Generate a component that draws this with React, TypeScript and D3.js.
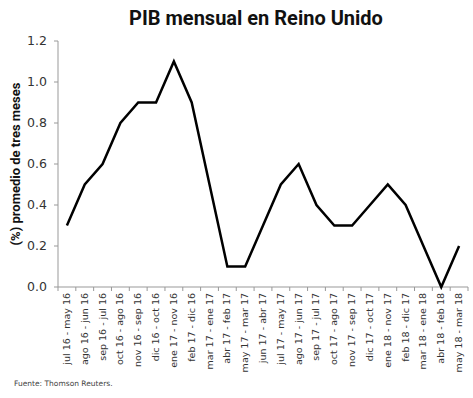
import React from "react";
import * as d3 from "d3";

const categories = [
  "jul 16 - may 16", "ago 16 - jun 16", "sep 16 - jul 16", "oct 16 - ago 16",
  "nov 16 - sep 16", "dic 16 - oct 16", "ene 17 - nov 16", "feb 17 - dic 16",
  "mar 17 - ene 17", "abr 17 - feb 17", "may 17 - mar 17", "jun 17 - abr 17",
  "jul 17 - may 17", "ago 17 - jun 17", "sep 17 - jul 17", "oct 17 - ago 17",
  "nov 17 - sep 17", "dic 17 - oct 17", "ene 18 - nov 17", "feb 18 - dic 17",
  "mar 18 - ene 18", "abr 18 - feb 18", "may 18 - mar 18",
];
const values = [0.3, 0.5, 0.6, 0.8, 0.9, 0.9, 1.1, 0.9, 0.5, 0.1, 0.1, 0.3, 0.5, 0.6, 0.4, 0.3, 0.3, 0.4, 0.5, 0.4, 0.2, 0.0, 0.2];
const yTicks = [0, 0.2, 0.4, 0.6, 0.8, 1.0, 1.2];

const W = 473, H = 398;
const left = 58, right = 468, top = 41, bottom = 287;

export default function App() {
  const x = d3.scaleBand<string>().domain(categories).range([left, right]);
  const y = d3.scaleLinear().domain([0, 1.2]).range([bottom, top]);
  const line = d3.line<number>()
    .x((_, i) => (x(categories[i]) as number) + x.bandwidth() / 2)
    .y((d) => y(d));
  const boundaries = categories.map((c) => x(c) as number).concat([right]);
  return (
    <svg width={W} height={H} style={{ position: "absolute", left: 0, top: 0, background: "#fff" }}>
      <text x={256} y={25} textAnchor="middle" fontFamily="Roboto, 'Open Sans', sans-serif" fontWeight="bold" fontSize={20} fill="#111">
        PIB mensual en Reino Unido
      </text>
      <text transform={`translate(20,${(top + bottom) / 2}) rotate(-90)`} textAnchor="middle" fontFamily="Roboto, 'Open Sans', sans-serif" fontWeight="bold" fontSize={13} fill="#111">
        (%) promedio de tres meses
      </text>
      {yTicks.map((t) => (
        <g key={t}>
          <line x1={left - 4} x2={left} y1={y(t)} y2={y(t)} stroke="#999" />
          <text x={47} y={y(t)} dy="0.35em" textAnchor="end" fontFamily="'DejaVu Sans', sans-serif" fontSize={12.5} fill="#333">
            {t.toFixed(1)}
          </text>
        </g>
      ))}
      <line x1={left} x2={left} y1={top} y2={bottom} stroke="#999" />
      <line x1={left} x2={right} y1={bottom} y2={bottom} stroke="#999" />
      {boundaries.map((b, i) => (
        <line key={i} x1={b} x2={b} y1={bottom} y2={bottom + 4} stroke="#999" />
      ))}
      {categories.map((c) => (
        <text key={c} transform={`translate(${(x(c) as number) + x.bandwidth() / 2 + 3},${bottom + 6}) rotate(-90)`} textAnchor="end" fontFamily="'DejaVu Sans', sans-serif" fontSize={9.5} fill="#333">
          {c}
        </text>
      ))}
      <path d={line(values) || ""} fill="none" stroke="#000" strokeWidth={2.5} strokeLinejoin="miter" />
      <text x={14} y={386} fontFamily="'DejaVu Sans', sans-serif" fontSize={7.5} fill="#444">
        Fuente: Thomson Reuters.
      </text>
    </svg>
  );
}
